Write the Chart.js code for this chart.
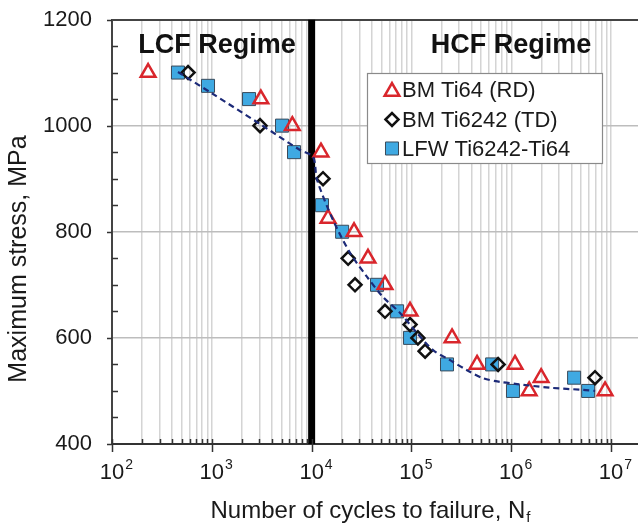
<!DOCTYPE html>
<html>
<head>
<meta charset="utf-8">
<script src="https://cdn.jsdelivr.net/npm/chart.js@4/dist/chart.umd.min.js"></script>
<style>
  html, body { margin: 0; padding: 0; background: #fff; overflow: hidden; }
  canvas { display: block; }
</style>
</head>
<body>
<canvas id="c" width="638" height="526"></canvas>
<script>
// S-N data: cycles to failure (N) and maximum stress (MPa)
const ti64N = [230, 3100, 6400, 12400, 14600, 26600, 36700, 54300, 96800, 255000, 454000, 1090000, 1990000, 1510000, 8700000];
const ti64S = [1100, 1050, 1000, 950, 825, 800, 750, 700, 650, 600, 550, 550, 525, 500, 500];

const ti6242N = [578, 3040, 13000, 23200, 27200, 54300, 96800, 116000, 137000, 738000, 6900000];
const ti6242S = [1100, 1000, 900, 750, 700, 650, 625, 600, 575, 550, 525];

const lfwN = [458, 916, 2360, 5050, 6660, 12700, 20200, 45200, 71800, 96800, 227000, 643000, 1040000, 4260000, 5890000];
const lfwS = [1100, 1075, 1050, 1000, 950, 850, 800, 700, 650, 600, 550, 550, 500, 525, 500];

// dashed trend curve
const fitN = [458, 1000, 3040, 7650, 10330, 11320, 16400, 24300, 35900, 51900, 76900, 113700, 164500, 243700, 360500, 521000, 772000, 1140000, 2450000, 5240000, 6920000];
const fitS = [1101, 1061, 1003, 954, 941, 898, 822, 760, 715, 677, 647, 609, 577, 558, 539, 524, 517, 513, 506, 502, 500];

const regimeN = 10000;
const regimeLabels = ['LCF Regime', 'HCF Regime'];
const seriesLabels = ['BM Ti64 (RD)', 'BM Ti6242 (TD)', 'LFW Ti6242-Ti64'];

const xDecades = [2, 3, 4, 5, 6, 7];
const yMin = 400, yMax = 1200, yStep = 50, yMajor = 200;
const xMin = 100, xMax = 1.86e7;

const pts = (xs, ys) => xs.map((x, i) => ({ x, y: ys[i] }));

const xTicks = [];
xDecades.forEach(e => { for (let m = 1; m <= 9; m++) { const v = m * Math.pow(10, e); if (v <= xMax) xTicks.push(v); } });

const FONT = '"Liberation Sans", Arial, sans-serif';

const markers = [
  { style: 'triangle', radius: 8.5, fill: 'rgba(255,255,255,0)', stroke: '#d9262c', width: 2.5 },
  { style: 'rectRot', radius: 6.5, fill: 'rgba(255,255,255,0)', stroke: '#111', width: 2.5 },
  { style: 'rect', radius: 9.2, fill: '#3fa9e2', stroke: '#3a4a5a', width: 1 }
];

const decor = {
  id: 'decor',
  afterDraw(chart) {
    const ctx = chart.ctx;
    const xs = chart.scales.x, ys = chart.scales.y;
    const a = chart.chartArea;
    ctx.save();
    ctx.strokeStyle = '#333';
    ctx.lineWidth = 1.5;
    // x tick marks: minor inward, decades outward
    xTicks.forEach(v => {
      const px = Math.round(xs.getPixelForValue(v)) + 0.5;
      const major = Math.abs(Math.log10(v) - Math.round(Math.log10(v))) < 1e-9;
      ctx.beginPath();
      if (major) { ctx.moveTo(px, a.bottom - 5); ctx.lineTo(px, a.bottom + 8); }
      else { ctx.moveTo(px, a.bottom); ctx.lineTo(px, a.bottom - 5); }
      ctx.stroke();
    });
    // y tick marks: minor inward, major outward
    for (let v = yMin; v <= yMax; v += yStep) {
      const py = Math.round(ys.getPixelForValue(v)) + 0.5;
      ctx.beginPath();
      if (v % yMajor === 0) { ctx.moveTo(a.left - 5, py); ctx.lineTo(a.left, py); }
      else { ctx.moveTo(a.left, py); ctx.lineTo(a.left + 6, py); }
      ctx.stroke();
    }
    // x tick labels 10^n
    ctx.fillStyle = '#1a1a1a';
    ctx.textBaseline = 'alphabetic';
    xDecades.forEach(e => {
      const px = xs.getPixelForValue(Math.pow(10, e));
      ctx.font = '22px ' + FONT;
      ctx.textAlign = 'center';
      ctx.fillText('10', px, 479);
      const w = ctx.measureText('10').width;
      ctx.font = '14px ' + FONT;
      ctx.textAlign = 'left';
      ctx.fillText(String(e), px + w / 2 + 1, 469);
    });
    // axis titles
    ctx.font = '24px ' + FONT;
    ctx.textAlign = 'left';
    const t1 = 'Number of cycles to failure, N';
    const w1 = ctx.measureText(t1).width;
    ctx.font = '15px ' + FONT;
    const w2 = ctx.measureText('f').width;
    const cx = (a.left + a.right) / 2 - 5;
    const x0 = cx - (w1 + w2) / 2;
    ctx.font = '24px ' + FONT;
    ctx.fillText(t1, x0, 518);
    ctx.font = '15px ' + FONT;
    ctx.fillText('f', x0 + w1 + 1, 522);
    ctx.save();
    ctx.translate(19, 259);
    ctx.rotate(-Math.PI / 2);
    ctx.font = '25px ' + FONT;
    ctx.textAlign = 'center';
    ctx.textBaseline = 'middle';
    ctx.fillText('Maximum stress, MPa', 0, 0);
    ctx.restore();
    // regime labels
    ctx.font = 'bold 27px ' + FONT;
    ctx.textAlign = 'center';
    ctx.fillStyle = '#111';
    ctx.fillText(regimeLabels[0], 217, 53);
    ctx.fillText(regimeLabels[1], 511, 53);
    // legend
    const lx = 367, ly = 73, lw = 235, lh = 90;
    ctx.fillStyle = '#fff';
    ctx.fillRect(lx, ly, lw, lh);
    ctx.strokeStyle = '#8a8a8a';
    ctx.lineWidth = 1.2;
    ctx.strokeRect(lx + 0.5, ly + 0.5, lw, lh);
    const rows = [90, 119.5, 148.5];
    seriesLabels.forEach((lab, i) => {
      const m = markers[i];
      ctx.fillStyle = m.fill;
      ctx.strokeStyle = m.stroke;
      ctx.lineWidth = m.width;
      Chart.helpers.drawPoint(ctx, { pointStyle: m.style, rotation: 0, radius: m.radius, borderWidth: m.width }, 392, rows[i] + (m.style === 'triangle' ? 1.5 : 0));
      ctx.fillStyle = '#1a1a1a';
      ctx.font = '22px ' + FONT;
      ctx.textAlign = 'left';
      ctx.textBaseline = 'middle';
      ctx.fillText(lab, 402, rows[i] + 1);
    });
    ctx.restore();
  }
};

const scatterSet = (label, xs, ys, m, order) => ({
  type: 'scatter', label, data: pts(xs, ys), order,
  pointStyle: m.style, pointRadius: m.radius, pointHoverRadius: m.radius,
  pointBackgroundColor: m.fill, pointBorderColor: m.stroke, pointBorderWidth: m.width
});

const noPad = s => { s.paddingTop = 0; s.paddingBottom = 0; s.paddingLeft = 0; s.paddingRight = 0; };

new Chart(document.getElementById('c'), {
  data: {
    datasets: [
      { type: 'line', label: 'fit', data: pts(fitN, fitS), order: 0, borderColor: '#1c2a78', borderWidth: 2.2,
        borderDash: [6, 4], pointRadius: 0, tension: 0.3, fill: false },
      scatterSet(seriesLabels[0], ti64N, ti64S, markers[0], 1),
      scatterSet(seriesLabels[1], ti6242N, ti6242S, markers[1], 2),
      scatterSet(seriesLabels[2], lfwN, lfwS, markers[2], 3),
      { type: 'line', label: 'boundary', data: [{ x: regimeN, y: yMin }, { x: regimeN, y: yMax }], order: 4,
        borderColor: '#000', borderWidth: 7, pointRadius: 0 }
    ]
  },
  options: {
    responsive: false,
    devicePixelRatio: 1,
    animation: false,
    events: [],
    layout: { autoPadding: false, padding: { top: 19.5, left: 0, right: 0, bottom: 0 } },
    plugins: { legend: { display: false }, tooltip: { enabled: false } },
    scales: {
      x: {
        type: 'logarithmic', min: xMin, max: xMax,
        afterBuildTicks: s => { s.ticks = xTicks.map(v => ({ value: v })); },
        afterFit: s => { s.height = 82; noPad(s); },
        ticks: { display: false },
        grid: { color: '#d4d4d4', lineWidth: 1.5, drawTicks: false },
        border: { color: '#333', width: 2 }
      },
      y: {
        type: 'linear', min: yMin, max: yMax,
        afterFit: s => { s.width = 112; noPad(s); },
        ticks: {
          stepSize: yStep, padding: 20, color: '#1a1a1a', autoSkip: false,
          font: { family: FONT, size: 22 },
          callback: v => (v % yMajor === 0 ? v : '')
        },
        grid: {
          drawTicks: false,
          color: c => (c.tick.value === yMax ? '#444' : (c.tick.value % yMajor === 0 ? '#bdbdbd' : 'rgba(0,0,0,0)')),
          lineWidth: c => (c.tick.value === yMax ? 2 : 1.5)
        },
        border: { color: '#444', width: 2 }
      }
    }
  },
  plugins: [decor]
});
</script>
</body>
</html>
